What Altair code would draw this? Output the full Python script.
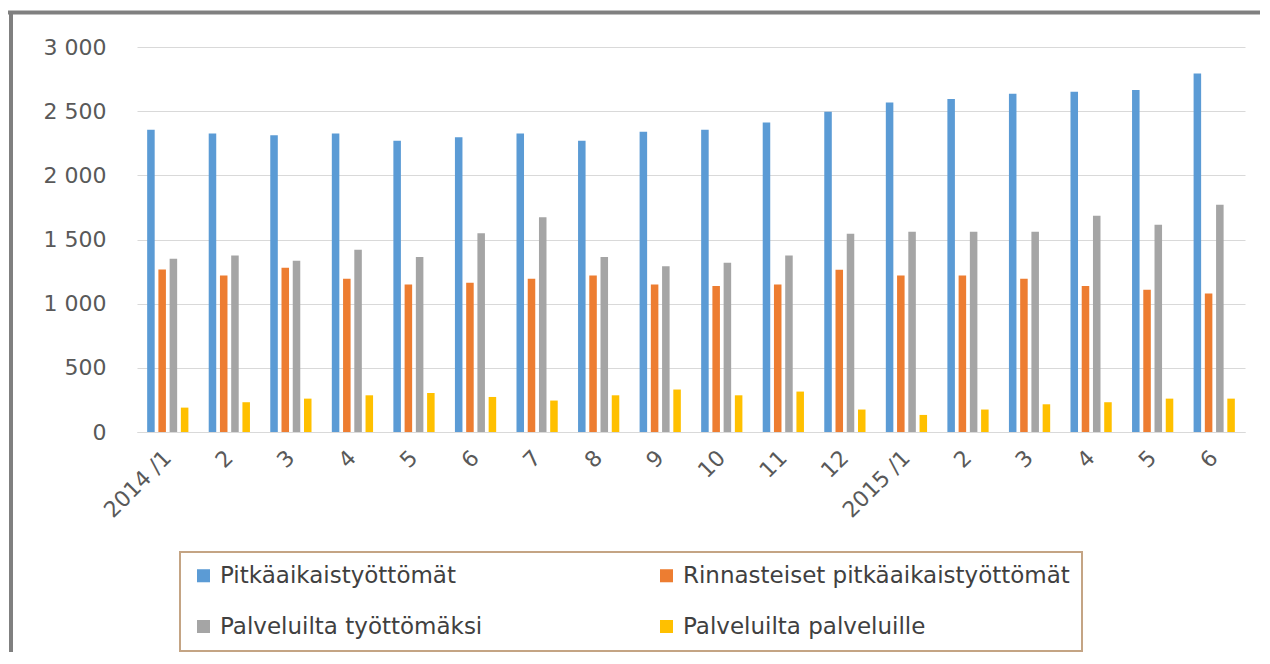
import json
import altair as alt
import pandas as pd

# ---- data ----
tick_labels = ["2014 /1", "2", "3", "4", "5", "6", "7", "8", "9", "10", "11", "12",
               "2015 /1", "2", "3", "4", "5", "6"]
series_names = ["Pitkäaikaistyöttömät", "Rinnasteiset pitkäaikaistyöttömät",
                "Palveluilta työttömäksi", "Palveluilta palveluille"]
pitkaaikais = [2355, 2326, 2313, 2326, 2269, 2297, 2326, 2269, 2339, 2355, 2411, 2495,
               2567, 2594, 2635, 2651, 2664, 2794]
rinnasteiset = [1267, 1220, 1280, 1194, 1150, 1163, 1194, 1220, 1150, 1137, 1150, 1264,
                1220, 1220, 1194, 1137, 1108, 1080]
palv_tyott = [1350, 1376, 1334, 1420, 1363, 1548, 1673, 1363, 1291, 1319, 1376, 1545,
              1561, 1561, 1561, 1686, 1615, 1771]
palv_palv = [190, 232, 260, 286, 304, 273, 245, 286, 331, 286, 315, 175,
             133, 175, 216, 232, 260, 260]
y_ticks = [0, 500, 1000, 1500, 2000, 2500, 3000]
colors = ["#5b9bd5", "#ed7d31", "#a5a5a5", "#ffc000"]

series_values = [pitkaaikais, rinnasteiset, palv_tyott, palv_palv]
rows = []
for name, vals in zip(series_names, series_values):
    for i, v in enumerate(vals):
        rows.append({"idx": i, "series": name, "value": v})
df = pd.DataFrame(rows)

FONT = "DejaVu Sans"
label_expr_x = json.dumps(tick_labels, ensure_ascii=False) + "[datum.value]"

bars = alt.Chart(df).mark_bar().encode(
    x=alt.X(
        "idx:O",
        scale=alt.Scale(paddingInner=0.33, paddingOuter=0.165),
        axis=alt.Axis(
            title=None, labelExpr=label_expr_x, labelAngle=-45, labelAlign="right",
            labelBaseline="middle", labelPadding=22, ticks=False, grid=False,
            domainColor="#d9d9d9", domainWidth=1, labelFont=FONT, labelFontSize=22,
            labelColor="#595959",
        ),
    ),
    xOffset=alt.XOffset("series:N", sort=series_names,
                        scale=alt.Scale(paddingInner=0.33)),
    y=alt.Y(
        "value:Q",
        scale=alt.Scale(domain=[0, 3000], nice=False),
        axis=alt.Axis(
            title=None, values=y_ticks,
            labelExpr="replace(format(datum.value, ',d'), ',', ' ')",
            ticks=False, domain=False, gridColor="#d9d9d9", gridWidth=1,
            labelPadding=31, labelFont=FONT, labelFontSize=22, labelColor="#595959",
        ),
    ),
    color=alt.Color(
        "series:N", sort=series_names,
        scale=alt.Scale(domain=series_names, range=colors),
        legend=alt.Legend(
            title=None, orient="none", legendX=43, legendY=505, columns=2,
            direction="horizontal",
            padding=12, rowPadding=27, columnPadding=172,
            strokeColor="#c4a484",
            symbolType="square", symbolSize=170, symbolStrokeWidth=0,
            labelFont=FONT, labelFontSize=23, labelColor="#404040",
            labelOffset=5, labelLimit=800,
        ),
    ),
)

frame_data = alt.Data(values=[{"k": 0}])
top_line = alt.Chart(frame_data).mark_rule(color="#808080", strokeWidth=4).encode(
    x=alt.value(-129), x2=alt.value(1125), y=alt.value(-34.5)
)
left_line = alt.Chart(frame_data).mark_rule(color="#808080", strokeWidth=4).encode(
    x=alt.value(-126), y=alt.value(-36), y2=alt.value(620)
)

chart = alt.layer(bars, top_line, left_line).properties(
    width=1108, height=385,
    autosize=alt.AutoSizeParams(type="none"),
    padding={"left": 129, "top": 39, "right": 15, "bottom": 220},
    background="white",
).configure_view(stroke=None).configure_legend(strokeWidth=2)

chart.save("out.html", embed_options={"renderer": "svg", "actions": False})
